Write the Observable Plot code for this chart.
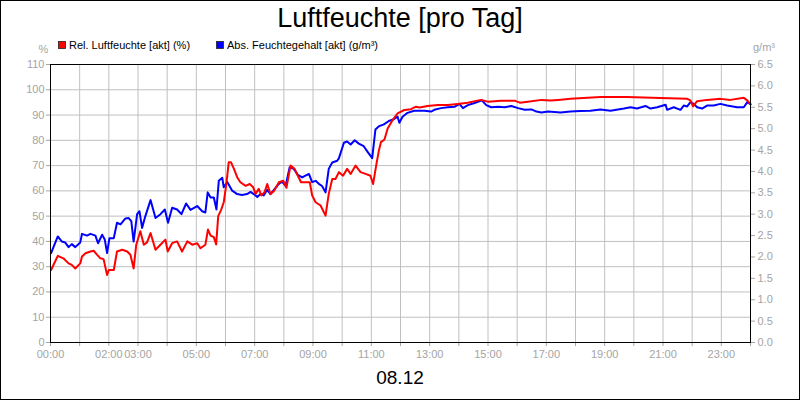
<!DOCTYPE html>
<html><head><meta charset="utf-8">
<script src="https://cdn.jsdelivr.net/npm/d3@7"></script>
<script src="https://cdn.jsdelivr.net/npm/@observablehq/plot@0.6"></script>
<style>
body{margin:0;background:#fff;}
#wrap{position:relative;width:800px;height:400px;}
#wrap svg{display:block;}
</style></head><body>
<div id="wrap"></div>
<script>
// Relative humidity (%) — time in hours of the day
const relHours = [0.02,0.25,0.44,0.62,0.73,0.85,1.02,1.08,1.2,1.37,1.48,1.6,1.71,1.82,1.94,2.0,2.17,2.28,2.46,2.63,2.74,2.85,2.94,3.08,3.2,3.31,3.43,3.6,3.77,3.94,4.02,4.17,4.34,4.51,4.69,4.86,5.03,5.14,5.31,5.4,5.49,5.6,5.68,5.75,5.85,5.94,6.03,6.11,6.19,6.29,6.4,6.51,6.69,6.83,6.95,7.03,7.14,7.23,7.34,7.43,7.54,7.66,7.83,7.98,8.09,8.23,8.37,8.48,8.59,8.78,8.89,8.97,9.09,9.26,9.43,9.54,9.66,9.77,9.89,10.03,10.17,10.29,10.46,10.63,10.8,10.97,11.06,11.18,11.26,11.33,11.45,11.56,11.73,11.9,12.13,12.36,12.53,12.65,12.93,13.28,13.62,13.96,14.31,14.59,14.76,14.99,15.45,15.91,16.09,16.37,16.83,17.14,17.4,17.83,18.86,19.77,20.91,21.83,21.94,22.03,22.17,22.51,22.97,23.31,23.77,23.89,24.0];
const relValues = [28.7,34.3,33.3,31.3,30.7,29.3,31.3,34,35.3,36,36.3,34.7,33.3,33,26.7,28.7,28.7,36,36.7,36,34.7,29.3,38.7,44,38.7,39.6,43.3,36.7,38.7,40.7,36,39.3,40,36,40,38.7,39.3,37.3,38.7,44.7,42.3,41.7,38.8,50,52.5,55.5,62.8,71.3,71.3,68.7,65.4,63.4,62,62.7,61.4,58.8,60.8,58.2,59.5,62.7,58.8,59.9,63.4,64,61.2,70,68.7,66,63.4,63.4,63.4,58.2,55.5,54.2,50.2,58.8,64.7,64.7,67.4,66,68.7,66.7,70,67.4,66.7,66,62.7,71,76,79.3,80.3,84.7,88,90.7,92,92.3,93.3,93,93.6,94,94,94.4,94.9,95.6,96,95.3,95.7,95.7,94.9,95.3,96,95.8,96,96.4,97.1,97.1,96.7,96.4,95.8,93.4,95.5,96,96.4,96,96.8,95.8,94.2];

// Absolute moisture content (g/m³)
const absHours = [0.02,0.25,0.39,0.5,0.62,0.73,0.85,1.02,1.08,1.25,1.37,1.54,1.63,1.77,1.86,1.94,2.02,2.17,2.28,2.4,2.57,2.68,2.77,2.85,2.97,3.05,3.14,3.25,3.43,3.6,3.77,3.92,4.03,4.17,4.34,4.49,4.65,4.8,5.03,5.2,5.31,5.39,5.49,5.6,5.69,5.77,5.89,5.94,6.06,6.23,6.4,6.57,6.74,6.86,6.97,7.09,7.2,7.31,7.43,7.54,7.66,7.83,7.94,8.06,8.2,8.34,8.48,8.63,8.74,8.86,8.97,9.09,9.2,9.31,9.43,9.54,9.66,9.83,9.89,10.06,10.17,10.29,10.43,10.57,10.74,10.86,11.03,11.14,11.27,11.43,11.6,11.77,11.9,11.96,12.07,12.24,12.47,12.82,13.05,13.16,13.39,13.62,13.85,14.02,14.14,14.31,14.54,14.79,14.94,15.11,15.34,15.57,15.8,16.03,16.26,16.49,16.66,16.83,17.06,17.49,17.83,18.17,18.51,18.86,19.2,19.66,19.89,20.11,20.4,20.57,20.8,21.09,21.14,21.37,21.6,21.71,21.83,21.94,22.06,22.17,22.34,22.51,22.74,22.97,23.2,23.54,23.77,23.89,24.0];
const absValues = [2.09,2.48,2.36,2.34,2.23,2.30,2.23,2.34,2.54,2.50,2.54,2.50,2.32,2.52,2.41,2.09,2.44,2.44,2.80,2.76,2.90,2.91,2.84,2.36,3.00,3.07,2.68,2.95,3.33,2.91,3.00,3.11,2.80,3.15,3.11,3.00,3.25,3.10,3.19,3.07,3.04,3.51,3.39,3.39,3.11,3.78,3.85,3.63,3.75,3.55,3.47,3.45,3.47,3.52,3.47,3.40,3.47,3.44,3.57,3.47,3.57,3.71,3.76,3.66,4.10,4.06,3.92,3.86,3.90,3.94,3.75,3.78,3.71,3.66,3.51,4.06,4.21,4.25,4.31,4.67,4.70,4.63,4.73,4.65,4.59,4.47,4.31,4.98,5.06,5.10,5.18,5.22,5.28,5.14,5.28,5.37,5.42,5.42,5.40,5.44,5.48,5.50,5.51,5.58,5.48,5.55,5.60,5.66,5.55,5.50,5.51,5.50,5.53,5.48,5.44,5.45,5.40,5.38,5.40,5.38,5.40,5.41,5.42,5.45,5.42,5.47,5.50,5.47,5.53,5.47,5.50,5.56,5.44,5.50,5.44,5.54,5.52,5.62,5.58,5.50,5.47,5.54,5.54,5.58,5.54,5.50,5.50,5.62,5.57];

// Axis ticks
const xTickHours = d3.range(0, 25, 1);
const xLabelHours = [0, 2, 3, 5, 7, 9, 11, 13, 15, 17, 19, 21, 23];
const yTicksLeft = d3.range(0, 111, 10);
const yTicksRight = d3.range(0, 6.51, 0.5);

const title = "Luftfeuchte [pro Tag]";
const legendLabels = ["Rel. Luftfeuchte [akt] (%)", "Abs. Feuchtegehalt [akt] (g/m³)"];
const dateLabel = "08.12";

const FACTOR = 110 / 6.5; // g/m³ -> % axis position
const gray = "#a4a4a4";
const gridColor = "#c0c0c0";

const relData = relHours.map((h, i) => ({h, v: relValues[i]}));
const absData = absHours.map((h, i) => ({h, v: absValues[i]}));

const chart = Plot.plot({
  width: 800, height: 400,
  marginLeft: 50, marginRight: 50, marginTop: 64, marginBottom: 58,
  style: {fontFamily: "'Liberation Sans', Arial, sans-serif", fontSize: "11px", background: "#fff"},
  x: {domain: [0, 24], axis: null, label: null},
  y: {domain: [0, 110], axis: null, label: null},
  marks: [
    Plot.gridX(xTickHours.slice(1, -1), {stroke: gridColor, strokeOpacity: 1}),
    Plot.gridY(yTicksLeft.slice(1, -1), {stroke: gridColor, strokeOpacity: 1}),
    Plot.axisX(xTickHours, {tickSize: 4, tickPadding: 4, color: gray, label: null,
      tickFormat: h => xLabelHours.includes(h) ? String(h).padStart(2, "0") + ":00" : ""}),
    Plot.axisY(yTicksLeft, {anchor: "left", tickSize: 4, tickPadding: 2, color: gray, label: null,
      tickFormat: d => String(d)}),
    Plot.axisY(yTicksRight.map(g => g * FACTOR), {anchor: "right", tickSize: 4, tickPadding: 3, color: gray, label: null,
      tickFormat: d => (d / FACTOR).toFixed(1)}),
    Plot.line(absData, {x: "h", y: d => d.v * FACTOR, stroke: "#0000ff", strokeWidth: 2}),
    Plot.line(relData, {x: "h", y: "v", stroke: "#ff0000", strokeWidth: 2}),
    Plot.frame({stroke: "#000", strokeWidth: 1})
  ]
});

const svg = d3.select(chart);
const font = "'Liberation Sans', Arial, sans-serif";
svg.append("rect").attr("x", 0.5).attr("y", 0.5).attr("width", 799).attr("height", 399)
  .attr("fill", "none").attr("stroke", "#000");
svg.append("text").attr("x", 400).attr("y", 27).attr("text-anchor", "middle")
  .attr("font-family", font).attr("font-size", 27).attr("fill", "#000").text(title);
svg.append("text").attr("x", 43.5).attr("y", 53).attr("text-anchor", "middle")
  .attr("font-family", font).attr("font-size", 11).attr("fill", gray).text("%");
svg.append("text").attr("x", 753).attr("y", 51).attr("text-anchor", "start")
  .attr("font-family", font).attr("font-size", 11).attr("fill", gray).text("g/m³");
const legendX = [58, 216];
const legendColors = ["#ff0000", "#0000ff"];
legendLabels.forEach((lab, i) => {
  svg.append("rect").attr("x", legendX[i] + 0.5).attr("y", 41.5).attr("width", 7).attr("height", 7)
    .attr("fill", legendColors[i]).attr("stroke", "#222").attr("stroke-width", 0.8);
  svg.append("text").attr("x", legendX[i] + 11).attr("y", 48.6).attr("text-anchor", "start")
    .attr("font-family", font).attr("font-size", 11).attr("fill", "#000").text(lab);
});
svg.append("text").attr("x", 400).attr("y", 383.5).attr("text-anchor", "middle")
  .attr("font-family", font).attr("font-size", 19).attr("fill", "#000").text(dateLabel);

document.getElementById("wrap").appendChild(chart);
</script>
</body></html>
